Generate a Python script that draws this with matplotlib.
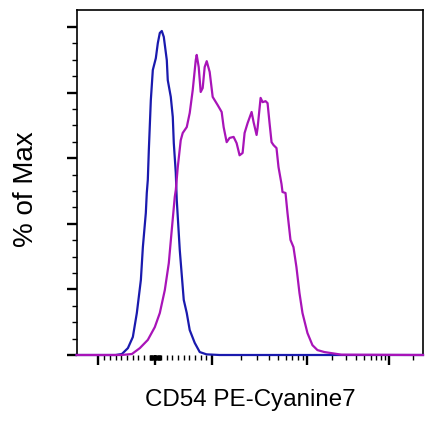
import numpy as np
import matplotlib
matplotlib.use("Agg")
import matplotlib.pyplot as plt
from matplotlib.ticker import FixedLocator, NullFormatter

# ---- data (fluorescence intensity, % of max) ----
iso_x = [-1700, -700, -588, -482, -395, -325, -254, -219, -167, -150, -132, -114,
         -79, -44, 9, 44, 79, 114, 149, 202, 219, 272, 307, 325, 360, 377, 430,
         500, 553, 605, 693, 781, 900, 1200, 262143]
iso_y = [0, 0, 0.3, 2.1, 5.5, 12.8, 22.9, 32.9, 43.3, 49.4, 53.4, 62.5,
         77.7, 86.9, 90.5, 95.1, 98.2, 98.8, 97.0, 89.9, 83.8, 78.7, 72.6, 64.6, 55.5, 47.3, 32.0,
         16.8, 12.8, 7.6, 3.7, 0.9, 0.2, 0, 0]

cd54_x = [-1700, -600, -412, -272, -132, -9, 79, 167, 237, 289, 342, 360, 395,
          447, 482, 553, 605, 658, 711, 728, 763, 798, 833, 868, 904, 956,
          1012, 1143, 1259, 1321, 1422, 1528, 1683, 1811, 1946, 2094, 2198, 2364,
          2606, 2735, 2941, 3013, 3243, 3404, 3658, 3840, 4031, 4231, 4441, 4771,
          5010, 5391, 5520, 5939, 6232, 6700, 7206, 7745, 8337, 8970, 10140,
          11670, 13430, 16340, 26400, 262143]
cd54_y = [0, 0, 0.3, 2.1, 4.6, 8.5, 12.8, 19.8, 28.0, 38.1, 48.2, 50.3, 57.3,
          65.5, 67.7, 69.5, 73.8, 80.8, 89.9, 91.5, 87.8, 80.2, 81.4, 87.8, 89.6, 86.3,
          78.7, 76.2, 74.1, 69.5, 64.9, 66.2, 66.5, 64.6, 60.9, 61.6, 67.7, 70.7,
          74.1, 71.0, 67.1, 69.2, 78.4, 77.1, 77.4, 76.8, 70.7, 64.9, 64.0, 63.1,
          57.3, 52.1, 49.7, 49.4, 43.3, 35.1, 32.9, 26.8, 18.9, 12.8, 6.7,
          3.0, 1.5, 0.9, 0.1, 0]

major_ticks = [-1000, 0, 1000, 10000, 100000]
minor_ticks = ([-v for v in range(100, 1000, 100)] + list(range(100, 1000, 100))
               + [-v for v in range(10, 100, 10)] + list(range(10, 100, 10))
               + [m * 1000 for m in range(2, 10)] + [m * 10000 for m in range(2, 10)]
               + [200000])

x_label = "CD54 PE-Cyanine7"
y_label = "% of Max"

# ---- logicle-like display transform ----
LOGS = [3, 4, 5, 6]
POS = [57, 152, 234, 316]


def fwd(x):
    x = np.asarray(x, dtype=float)
    a = np.abs(x)
    lin = a / 1000.0 * 57
    lg = np.log10(np.maximum(a, 1000.0))
    lp = np.interp(lg, LOGS, POS)
    lp = np.where(lg > 6, POS[-1] + (lg - 6) * 82, lp)
    return np.sign(x) * np.where(a <= 1000, lin, lp)


def inv(y):
    y = np.asarray(y, dtype=float)
    a = np.abs(y)
    lin = a / 57.0 * 1000
    lg = np.interp(a, POS, LOGS)
    lg = np.where(a > POS[-1], 6 + (a - POS[-1]) / 82, lg)
    return np.sign(y) * np.where(a <= 57, lin, 10 ** lg)


fig = plt.figure(figsize=(4.38, 4.22), dpi=100)
ax = fig.add_axes([77 / 438, 67 / 422, 346 / 438, 345 / 422])
ax.set_xscale("function", functions=(fwd, inv))

ax.plot(iso_x, iso_y, color="#1A1AAE", lw=1.6, clip_on=False, zorder=3)
ax.plot(cd54_x, cd54_y, color="#A814B8", lw=1.6, clip_on=False, zorder=4)

ax.set_xlim(-1684, 262143)
ax.set_ylim(0, 105.2)

ax.xaxis.set_major_locator(FixedLocator(major_ticks))
ax.xaxis.set_minor_locator(FixedLocator(minor_ticks))
ax.yaxis.set_major_locator(FixedLocator([0, 20, 40, 60, 80, 100]))
ax.yaxis.set_minor_locator(FixedLocator([v for v in range(5, 105, 5) if v % 20]))
ax.xaxis.set_major_formatter(NullFormatter())
ax.yaxis.set_major_formatter(NullFormatter())

ax.tick_params(axis="both", which="major", direction="out", length=7.2, width=1.7, color="black")
ax.tick_params(axis="both", which="minor", direction="out", length=3.6, width=1.0, color="black")
ax.tick_params(top=False, right=False)

for s in ["left", "top", "right"]:
    ax.spines[s].set_linewidth(1.2)
ax.spines["bottom"].set_visible(False)

fam = ["Liberation Sans", "DejaVu Sans"]
fig.text(250 / 438, 1 - 406 / 422, x_label, ha="center", va="baseline",
         fontsize=17.4, family=fam)
fig.text(33 / 438, 1 - 189 / 422, y_label, ha="center", va="baseline", rotation=90,
         rotation_mode="anchor", fontsize=20, family=fam)

fig.savefig("out.png", dpi=100)
